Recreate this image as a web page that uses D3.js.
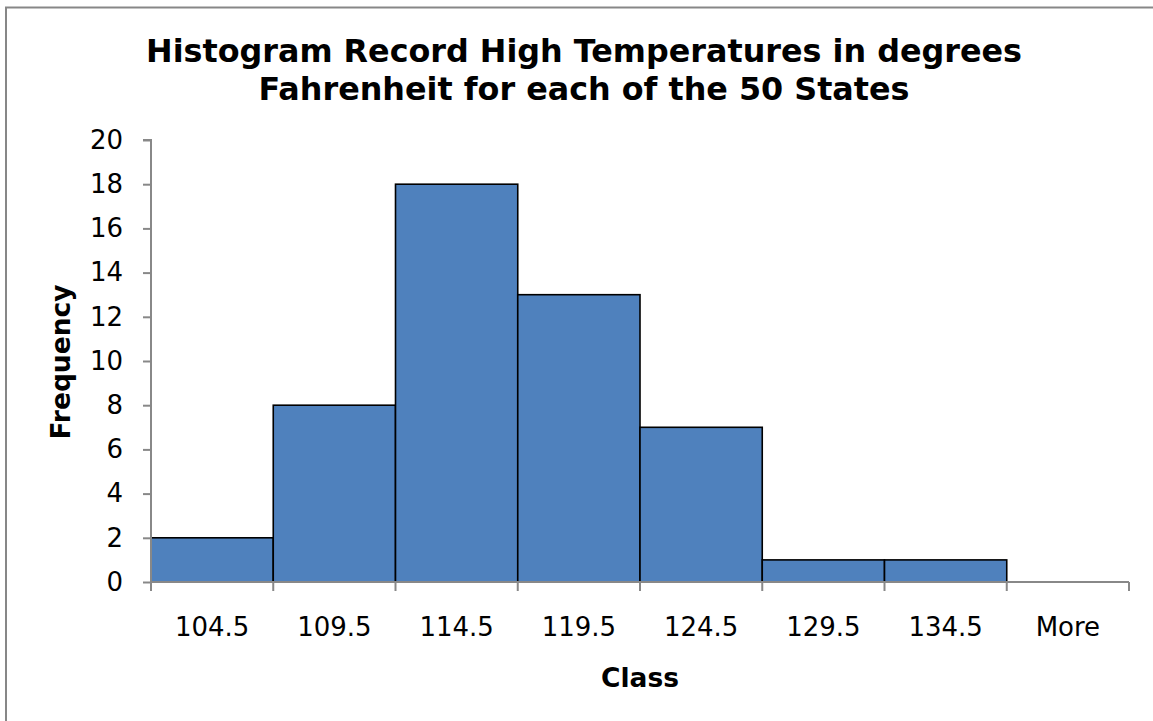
<!DOCTYPE html>
<html><head><meta charset="utf-8">
<script src="https://cdn.jsdelivr.net/npm/d3@7"></script>
<style>
html,body{margin:0;padding:0;background:#fff;}
svg{display:block;font-family:"DejaVu Sans",Verdana,sans-serif;}
</style></head>
<body><svg id="c" width="1153" height="721"></svg>
<script>
const categories = ["104.5","109.5","114.5","119.5","124.5","129.5","134.5","More"];
const frequencies = [2,8,18,13,7,1,1,0];
const yTicks = [0,2,4,6,8,10,12,14,16,18,20];
const titleLines = ["Histogram Record High Temperatures in degrees","Fahrenheit for each of the 50 States"];

const svg = d3.select("#c");
svg.append("rect").attr("x",6).attr("y",7.5).attr("width",1160).attr("height",730)
  .attr("fill","#fff").attr("stroke","#878787").attr("stroke-width",2);

const m = {left:151, right:1129, top:140, bottom:582};
const x = d3.scaleBand().domain(categories).range([m.left,m.right]).padding(0);
const y = d3.scaleLinear().domain([0,20]).range([m.bottom,m.top]);

// bars
svg.append("g").selectAll("rect").data(categories.map((c,i)=>({c,v:frequencies[i]})).filter(d=>d.v>0))
  .join("rect")
  .attr("x",d=>x(d.c)).attr("width",x.bandwidth())
  .attr("y",d=>y(d.v)).attr("height",d=>y(0)-y(d.v))
  .attr("fill","#4F81BD").attr("stroke","#000").attr("stroke-width",1.6);

// y axis
const ya = svg.append("g").attr("transform",`translate(${m.left},0)`)
  .call(d3.axisLeft(y).tickValues(yTicks).tickSize(8).tickPadding(20).tickFormat(d3.format("d")));
ya.selectAll("path,line").attr("stroke","#888").attr("stroke-width",2);
ya.select("path").attr("d",`M-8,${m.top}H0V${m.bottom}`);
ya.selectAll("text").attr("font-size",26).attr("fill","#000").attr("font-family","DejaVu Sans, Verdana, sans-serif");

// x axis
const xa = svg.append("g").attr("transform",`translate(0,${m.bottom})`);
xa.append("line").attr("x1",m.left).attr("x2",m.right).attr("stroke","#888").attr("stroke-width",2);
const bounds = categories.map(c=>x(c)).concat([x(categories[categories.length-1])+x.bandwidth()]);
xa.selectAll("line.t").data(bounds).join("line").attr("class","t")
  .attr("x1",d=>d).attr("x2",d=>d).attr("y1",0).attr("y2",9).attr("stroke","#888").attr("stroke-width",2);
xa.selectAll("text").data(categories).join("text")
  .attr("x",d=>x(d)+x.bandwidth()/2).attr("y",54).attr("text-anchor","middle")
  .attr("font-size",26).attr("fill","#000").text(d=>d);

// title
svg.append("text").attr("x",584).attr("y",62).attr("text-anchor","middle")
  .attr("font-size",31.8).attr("font-weight","bold").selectAll("tspan").data(titleLines).join("tspan")
  .attr("x",584).attr("dy",(d,i)=>i?38:0).text(d=>d);

// axis titles
svg.append("text").attr("x",640).attr("y",687).attr("text-anchor","middle")
  .attr("font-size",26.5).attr("font-weight","bold").text("Class");
svg.append("text").attr("transform","translate(70,362) rotate(-90)").attr("text-anchor","middle")
  .attr("font-size",26.5).attr("font-weight","bold").text("Frequency");
</script></body></html>
